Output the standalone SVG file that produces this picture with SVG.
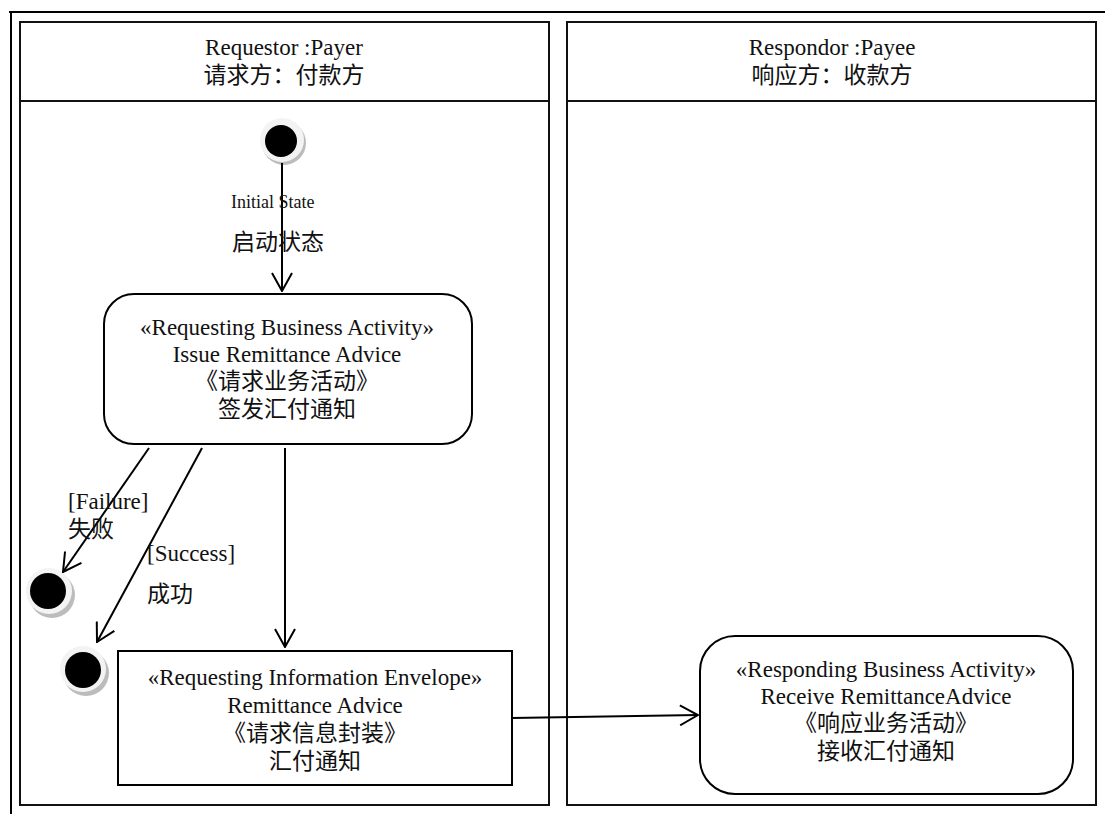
<svg xmlns="http://www.w3.org/2000/svg" width="1105" height="814" viewBox="0 0 1105 814">
<style>
.t{font-family:"Liberation Serif","Noto Sans CJK SC",serif;font-size:23px;fill:#111;text-anchor:middle}
.l{font-family:"Liberation Serif","Noto Sans CJK SC",serif;font-size:23px;fill:#111}
.s{font-family:"Liberation Serif",serif;font-size:18px;fill:#111}
.lane{fill:#fff;stroke:#111;stroke-width:2}
.node{fill:#fff;stroke:#000;stroke-width:2}
.c{stroke:#000;stroke-width:2;fill:none;marker-end:url(#arr)}
.ring{fill:#f3f3f3}
.shadow{fill:#bcbcbc}
</style>
<defs>
<marker id="arr" viewBox="0 0 20 22" refX="19" refY="11" markerWidth="20" markerHeight="22" markerUnits="userSpaceOnUse" orient="auto">
<path d="M1,1 L19,11 L1,21" fill="none" stroke="#000" stroke-width="2"/>
</marker>
</defs>
<rect width="1105" height="814" fill="#fff"/>
<g id="frame">
<line x1="9" y1="12" x2="1105" y2="12" stroke="#000" stroke-width="2"/>
<line x1="11" y1="12" x2="11" y2="814" stroke="#000" stroke-width="2"/>
</g>
<g id="lane-payer">
<rect class="lane" x="20" y="22" width="529" height="783"/>
<line x1="20" y1="101" x2="549" y2="101" stroke="#111" stroke-width="2"/>
<text class="t" x="284" y="55">Requestor :Payer</text>
<text class="t" x="284" y="83">请求方：付款方</text>
</g>
<g id="lane-payee">
<rect class="lane" x="567" y="22" width="529" height="783"/>
<line x1="567" y1="101" x2="1096" y2="101" stroke="#111" stroke-width="2"/>
<text class="t" x="832" y="55">Respondor :Payee</text>
<text class="t" x="832" y="83">响应方：收款方</text>
</g>
<g id="initial">
<circle class="shadow" cx="284" cy="143" r="22"/>
<circle class="ring" cx="282" cy="140" r="22"/>
<circle cx="281" cy="141" r="16" fill="#000"/>
</g>
<g id="final-failure">
<circle class="shadow" cx="52" cy="595" r="23"/>
<circle class="ring" cx="49" cy="591" r="23"/>
<circle cx="48" cy="591" r="18" fill="#000"/>
</g>
<g id="final-success">
<circle class="shadow" cx="86" cy="673" r="23"/>
<circle class="ring" cx="83" cy="669" r="23"/>
<circle cx="83" cy="670" r="18" fill="#000"/>
</g>
<g id="issue">
<rect class="node" x="104" y="294" width="368" height="150" rx="30"/>
<text class="t" x="287" y="335">«Requesting Business Activity»</text>
<text class="t" x="287" y="362">Issue Remittance Advice</text>
<text class="t" x="287" y="389">《请求业务活动》</text>
<text class="t" x="287" y="417">签发汇付通知</text>
</g>
<g id="envelope">
<rect class="node" x="118" y="651" width="394" height="134"/>
<text class="t" x="315" y="685">«Requesting Information Envelope»</text>
<text class="t" x="315" y="713">Remittance Advice</text>
<text class="t" x="315" y="741">《请求信息封装》</text>
<text class="t" x="315" y="769">汇付通知</text>
</g>
<g id="receive">
<rect class="node" x="700" y="636" width="373" height="158" rx="35"/>
<text class="t" x="886" y="677">«Responding Business Activity»</text>
<text class="t" x="886" y="704">Receive RemittanceAdvice</text>
<text class="t" x="886" y="731">《响应业务活动》</text>
<text class="t" x="886" y="759">接收汇付通知</text>
</g>
<g id="connectors">
<line class="c" x1="282" y1="163" x2="282" y2="291"/>
<line class="c" x1="149" y1="448" x2="63" y2="572"/>
<line class="c" x1="202" y1="448" x2="97" y2="642"/>
<line class="c" x1="285" y1="448" x2="285" y2="647"/>
<line class="c" x1="512" y1="718" x2="698" y2="715"/>
</g>
<g id="labels">
<text class="s" x="231" y="208">Initial State</text>
<text class="l" x="232" y="250">启动状态</text>
<text class="l" x="68" y="509">[Failure]</text>
<text class="l" x="68" y="537">失败</text>
<text class="l" x="147" y="561">[Success]</text>
<text class="l" x="147" y="602">成功</text>
</g>
</svg>
